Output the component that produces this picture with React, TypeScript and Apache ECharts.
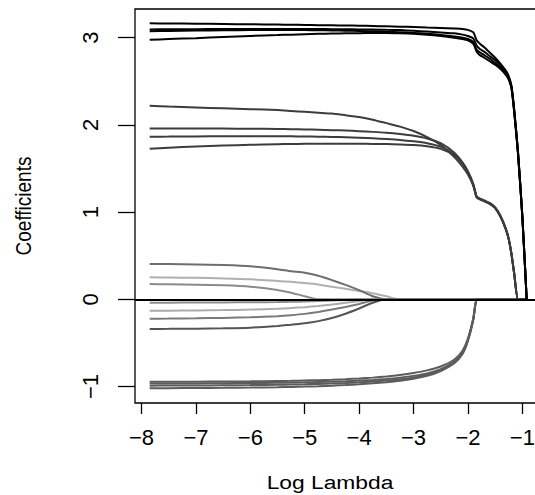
import React, { useEffect, useRef } from "react";
import * as echarts from "echarts";

// log(lambda) grid shared by every coefficient path
const logLambda = [
  -7.85, -7.5, -7, -6.5, -6, -5.5, -5.25, -5, -4.75, -4.5, -4.25, -4, -3.75, -3.5, -3.25, -3,
  -2.75, -2.5, -2.25, -2.1, -2.0, -1.9, -1.84, -1.78, -1.7, -1.6, -1.5, -1.4, -1.3, -1.25, -1.2,
  -1.15, -1.08, -1.0, -0.92,
];

// strongest predictors (black)
const coefA = [3.165, 3.163, 3.16, 3.157, 3.154, 3.15, 3.148, 3.146, 3.144, 3.142, 3.14, 3.137, 3.134, 3.13, 3.126, 3.122, 3.117, 3.112, 3.105, 3.1, 3.09, 3.06, 2.97, 2.93, 2.89, 2.83, 2.77, 2.7, 2.62, 2.56, 2.45, 2.18, 1.7, 0.96, 0];
const coefB = [3.095, 3.096, 3.098, 3.1, 3.1, 3.1, 3.1, 3.1, 3.099, 3.098, 3.097, 3.095, 3.093, 3.09, 3.087, 3.08, 3.07, 3.06, 3.05, 3.035, 3.02, 2.99, 2.91, 2.87, 2.84, 2.79, 2.74, 2.68, 2.6, 2.54, 2.44, 2.17, 1.69, 0.955, 0];
const coefC = [3.075, 3.078, 3.082, 3.085, 3.087, 3.088, 3.088, 3.087, 3.085, 3.083, 3.08, 3.077, 3.073, 3.068, 3.062, 3.055, 3.045, 3.032, 3.015, 3.0, 2.985, 2.95, 2.86, 2.83, 2.8, 2.76, 2.71, 2.66, 2.58, 2.53, 2.43, 2.16, 1.68, 0.95, 0];
const coefD = [2.975, 2.985, 2.995, 3.008, 3.02, 3.03, 3.035, 3.04, 3.044, 3.047, 3.05, 3.052, 3.053, 3.053, 3.05, 3.045, 3.035, 3.02, 3.0, 2.985, 2.97, 2.93, 2.84, 2.8, 2.77, 2.73, 2.69, 2.64, 2.57, 2.52, 2.42, 2.15, 1.67, 0.945, 0];

// second tier (dark grey)
const coefE = [2.22, 2.21, 2.2, 2.19, 2.18, 2.17, 2.16, 2.15, 2.14, 2.13, 2.11, 2.09, 2.06, 2.02, 1.98, 1.93, 1.86, 1.77, 1.63, 1.52, 1.43, 1.3, 1.17, 1.15, 1.13, 1.1, 1.05, 0.95, 0.8, 0.69, 0.52, 0.3, 0, 0, 0];
const coefF = [1.96, 1.96, 1.96, 1.958, 1.956, 1.953, 1.951, 1.948, 1.945, 1.94, 1.935, 1.928, 1.92, 1.91, 1.895, 1.875, 1.845, 1.79, 1.68, 1.57, 1.47, 1.32, 1.18, 1.155, 1.135, 1.105, 1.055, 0.955, 0.805, 0.695, 0.525, 0.3, 0, 0, 0];
const coefG = [1.865, 1.866, 1.868, 1.87, 1.87, 1.87, 1.869, 1.867, 1.865, 1.862, 1.858, 1.853, 1.846, 1.838, 1.828, 1.812, 1.79, 1.75, 1.66, 1.56, 1.46, 1.31, 1.175, 1.15, 1.13, 1.1, 1.05, 0.95, 0.8, 0.69, 0.52, 0.3, 0, 0, 0];
const coefH = [1.726, 1.738, 1.752, 1.763, 1.772, 1.778, 1.781, 1.783, 1.784, 1.785, 1.785, 1.784, 1.782, 1.78, 1.776, 1.77, 1.755, 1.725, 1.65, 1.555, 1.455, 1.305, 1.17, 1.145, 1.125, 1.095, 1.045, 0.945, 0.795, 0.685, 0.515, 0.295, 0, 0, 0];

// negative block (grey)
const coefL1 = [-0.945, -0.945, -0.944, -0.942, -0.94, -0.937, -0.935, -0.931, -0.927, -0.922, -0.916, -0.908, -0.898, -0.885, -0.868, -0.845, -0.815, -0.77, -0.69, -0.59, -0.45, -0.21, 0, 0, 0, 0, 0, 0, 0, 0, 0, 0, 0, 0, 0];
const coefL2 = [-0.965, -0.965, -0.964, -0.962, -0.96, -0.957, -0.955, -0.952, -0.948, -0.944, -0.939, -0.932, -0.924, -0.913, -0.898, -0.878, -0.85, -0.8, -0.715, -0.61, -0.465, -0.22, 0, 0, 0, 0, 0, 0, 0, 0, 0, 0, 0, 0, 0];
const coefL3 = [-0.99, -0.989, -0.988, -0.986, -0.984, -0.98, -0.977, -0.974, -0.97, -0.965, -0.959, -0.952, -0.943, -0.932, -0.917, -0.896, -0.866, -0.812, -0.725, -0.62, -0.47, -0.225, 0, 0, 0, 0, 0, 0, 0, 0, 0, 0, 0, 0, 0];
const coefL4 = [-1.02, -1.019, -1.017, -1.015, -1.012, -1.008, -1.005, -1.001, -0.996, -0.99, -0.983, -0.974, -0.963, -0.95, -0.933, -0.91, -0.878, -0.822, -0.733, -0.628, -0.475, -0.23, 0, 0, 0, 0, 0, 0, 0, 0, 0, 0, 0, 0, 0];

// weak predictors that drop out early
const coefP1 = [0.405, 0.404, 0.4, 0.393, 0.38, 0.345, 0.322, 0.305, 0.27, 0.22, 0.165, 0.105, 0.035, 0, 0, 0, 0, 0, 0, 0, 0, 0, 0, 0, 0, 0, 0, 0, 0, 0, 0, 0, 0, 0, 0];
const coefP2 = [0.252, 0.25, 0.247, 0.24, 0.23, 0.21, 0.2, 0.187, 0.17, 0.143, 0.12, 0.095, 0.07, 0.035, 0, 0, 0, 0, 0, 0, 0, 0, 0, 0, 0, 0, 0, 0, 0, 0, 0, 0, 0, 0, 0];
const coefP3 = [0.175, 0.172, 0.167, 0.16, 0.145, 0.108, 0.075, 0.035, 0, 0, 0, 0, 0, 0, 0, 0, 0, 0, 0, 0, 0, 0, 0, 0, 0, 0, 0, 0, 0, 0, 0, 0, 0, 0, 0];
const coefN1 = [-0.038, -0.038, -0.037, -0.036, -0.034, -0.031, -0.028, -0.025, -0.02, -0.014, -0.007, 0, 0, 0, 0, 0, 0, 0, 0, 0, 0, 0, 0, 0, 0, 0, 0, 0, 0, 0, 0, 0, 0, 0, 0];
const coefN2 = [-0.131, -0.13, -0.128, -0.124, -0.118, -0.108, -0.1, -0.09, -0.077, -0.06, -0.04, -0.02, 0, 0, 0, 0, 0, 0, 0, 0, 0, 0, 0, 0, 0, 0, 0, 0, 0, 0, 0, 0, 0, 0, 0];
const coefN3 = [-0.222, -0.221, -0.218, -0.213, -0.206, -0.193, -0.182, -0.167, -0.145, -0.118, -0.087, -0.053, -0.015, 0, 0, 0, 0, 0, 0, 0, 0, 0, 0, 0, 0, 0, 0, 0, 0, 0, 0, 0, 0, 0, 0];
const coefN4 = [-0.34, -0.339, -0.337, -0.333, -0.325, -0.305, -0.292, -0.275, -0.25, -0.215, -0.165, -0.105, -0.04, 0, 0, 0, 0, 0, 0, 0, 0, 0, 0, 0, 0, 0, 0, 0, 0, 0, 0, 0, 0, 0, 0];

const xTicks = [-8, -7, -6, -5, -4, -3, -2, -1];
const yTicks = [-1, 0, 1, 2, 3];

const paths: { values: number[]; color: string }[] = [
  { values: coefN1, color: "#8e8e8e" },
  { values: coefN2, color: "#ababab" },
  { values: coefN3, color: "#7a7a7a" },
  { values: coefN4, color: "#555555" },
  { values: coefP3, color: "#8a8a8a" },
  { values: coefP2, color: "#b0b0b0" },
  { values: coefP1, color: "#6e6e6e" },
  { values: coefL1, color: "#5c5c5c" },
  { values: coefL2, color: "#5c5c5c" },
  { values: coefL3, color: "#5c5c5c" },
  { values: coefL4, color: "#5c5c5c" },
  { values: coefE, color: "#3c3c3c" },
  { values: coefF, color: "#3c3c3c" },
  { values: coefG, color: "#3c3c3c" },
  { values: coefH, color: "#3c3c3c" },
  { values: coefD, color: "#000000" },
  { values: coefC, color: "#000000" },
  { values: coefB, color: "#000000" },
  { values: coefA, color: "#000000" },
];

const FONT = "Liberation Sans";
const minus = (v: number) => String(v).replace("-", "\u2212");

export default function App() {
  const ref = useRef<HTMLDivElement>(null);

  useEffect(() => {
    if (!ref.current) return;
    const chart = echarts.init(ref.current, undefined, { renderer: "svg" });

    const series: any[] = paths.map((p, i) => ({
      type: "line",
      data: logLambda.map((x, k) => [x, p.values[k]]),
      showSymbol: false,
      smooth: 0.2,
      silent: true,
      z: 2 + i * 0.01,
      lineStyle: { color: p.color, width: 2 },
      itemStyle: { color: p.color },
    }));
    // horizontal reference at zero, over the paths
    series[series.length - 1].markLine = {
      symbol: "none",
      silent: true,
      label: { show: false },
      lineStyle: { color: "#000", width: 2, type: "solid" },
      data: [{ yAxis: 0 }],
    };

    chart.setOption({
      animation: false,
      backgroundColor: "#fff",
      grid: {
        left: 135,
        top: 9,
        width: 408,
        height: 394,
        show: true,
        borderColor: "#000",
        borderWidth: 1.3,
        backgroundColor: "transparent",
      },
      xAxis: {
        type: "value",
        min: -8.12,
        max: -0.62,
        axisLine: { show: false, onZero: false },
        splitLine: { show: false },
        axisTick: {
          show: true,
          length: 11,
          customValues: xTicks,
          lineStyle: { color: "#000", width: 1.3 },
        },
        axisLabel: {
          customValues: xTicks,
          formatter: (v: number) => minus(v),
          color: "#000",
          fontFamily: FONT,
          fontSize: 22,
          margin: 23,
        },
      },
      yAxis: {
        type: "value",
        min: -1.189,
        max: 3.329,
        axisLine: { show: false, onZero: false },
        splitLine: { show: false },
        axisTick: {
          show: true,
          length: 17,
          customValues: yTicks,
          lineStyle: { color: "#000", width: 1.3 },
        },
        axisLabel: {
          customValues: yTicks,
          formatter: (v: number) => minus(v),
          rotate: 90,
          color: "#000",
          fontFamily: FONT,
          fontSize: 22,
          margin: 34,
        },
      },
      graphic: [
        {
          type: "text",
          x: 330,
          y: 482,
          scaleX: 1.2,
          style: {
            text: "Log Lambda",
            fill: "#000",
            font: `19px "${FONT}"`,
            textAlign: "center",
            textVerticalAlign: "middle",
          },
        },
        {
          type: "text",
          x: 23,
          y: 206,
          rotation: Math.PI / 2,
          scaleY: 1.2,
          style: {
            text: "Coefficients",
            fill: "#000",
            font: `19px "${FONT}"`,
            textAlign: "center",
            textVerticalAlign: "middle",
          },
        },
      ],
      series,
    });

    return () => chart.dispose();
  }, []);

  return (
    <div
      style={{
        position: "fixed",
        left: 0,
        top: 0,
        width: 535,
        height: 495,
        overflow: "hidden",
        background: "#fff",
      }}
    >
      <div ref={ref} style={{ width: 560, height: 495 }} />
    </div>
  );
}
